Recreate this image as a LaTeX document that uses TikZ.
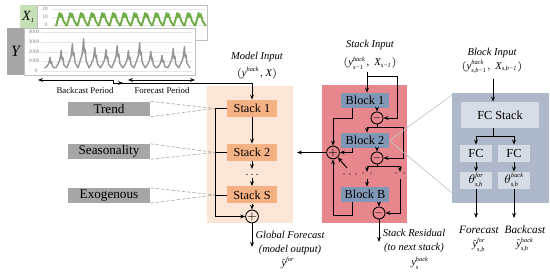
\documentclass[tikz,border=0pt]{standalone}
\usepackage{fontspec}
\setmainfont{Liberation Serif}
\usetikzlibrary{arrows.meta, positioning, calc}
\usepackage{xcolor}
\definecolor{peach}{RGB}{251,229,214}
\definecolor{apricot}{RGB}{244,177,131}
\definecolor{rosered}{RGB}{231,134,140}
\definecolor{steel}{RGB}{128,151,182}
\definecolor{slate}{RGB}{173,185,202}
\definecolor{mist}{RGB}{214,220,229}
\definecolor{ash}{RGB}{166,166,166}
\definecolor{leaf}{RGB}{112,173,71}
\definecolor{leafbg}{RGB}{197,224,180}
% tiny italic script for super/subscripts
\newcommand{\scr}[1]{\hbox{\fontsize{3.6}{4}\selectfont\itshape #1}}

\begin{document}
\begin{tikzpicture}[x=0.02cm, y=-0.02cm, line width=0.5pt,
    >={Stealth[length=2.8pt,width=2.2pt]},
    stackbox/.style={fill=apricot, minimum width=1.0cm, minimum height=0.34cm,
                     inner sep=0pt, font=\fontsize{7}{8}\selectfont},
    blockbox/.style={fill=steel, minimum width=0.96cm, minimum height=0.30cm,
                     inner sep=0pt, font=\fontsize{7}{8}\selectfont},
    tagbox/.style={fill=ash, minimum width=1.64cm, minimum height=0.29cm,
                   inner sep=0pt, font=\fontsize{7.5}{8}\selectfont},
    fcbox/.style={fill=mist, minimum width=0.64cm, minimum height=0.34cm,
                  inner sep=0pt, font=\fontsize{7}{8}\selectfont},
    sumnode/.style={circle, draw, minimum size=0.18cm, inner sep=0pt,
                    font=\fontsize{6}{6}\selectfont},
    minusnode/.style={circle, draw, minimum size=0.12cm, inner sep=0pt,
                      font=\fontsize{4}{4}\selectfont},
    capt/.style={font=\fontsize{6}{7}\selectfont\itshape, inner sep=0pt},
    period/.style={font=\fontsize{5}{6}\selectfont, inner sep=0pt},
    tick/.style={font=\fontsize{3}{3}\selectfont, text=gray, inner sep=0pt},
    lead/.style={ash!90, dash pattern=on 2pt off 1pt, line width=0.4pt},
    zoomline/.style={gray!45, line width=0.4pt},
    panel/.style={fill=white, draw=gray!50, line width=0.4pt},
    gridline/.style={gray!20, line width=0.3pt},
    xline/.style={leaf, line width=1.1pt, line join=round},
    yline/.style={ash!90!black, line width=0.8pt, line join=round}]
  \useasboundingbox (0,0) rectangle (550,276);

  % exogenous series panel
  \fill[leafbg] (20,5) rectangle (37,40);
  \node[font=\fontsize{8}{8}\selectfont] (xlab) at (28.5,17) {$\mathit{X}_{\scr{1}}$};
  \draw[panel] (37,5) rectangle (207,40);
  \foreach \gy in {9,17,25} \draw[gridline] (52,\gy) -- (205,\gy);
  \node[tick] (x20) at (45,9) {20};
  \node[tick] (x10) at (45,17) {10};
  \node[tick] (x0) at (46,25) {0};
  \foreach \i in {0,...,13}{
    \pgfmathsetmacro\xp{56+\i*10.7}
    \draw[xline] (\xp,26) -- (\xp+2,19) -- (\xp+3.5,13) -- (\xp+4.5,17)
      -- (\xp+5.5,14) -- (\xp+7.5,21) -- (\xp+10.7,26);
  }

  % target series panel
  \fill[ash] (7,28) rectangle (24,75);
  \node[font=\fontsize{9}{9}\selectfont] (ylab) at (15.5,51) {$\mathit{Y}$};
  \draw[panel] (24,28) rectangle (195,75);
  \foreach \gy in {32,42,52,61,71} \draw[gridline] (41,\gy) -- (192,\gy);
  \node[tick] (y4) at (34,32) {4000};
  \node[tick] (y3) at (34,42) {3000};
  \node[tick] (y2) at (34,52) {2000};
  \node[tick] (y1) at (34,61) {1000};
  \node[tick] (y0) at (36,71) {0};
  \foreach \h [count=\i] in {1400,2100,2800,3300,2400,2200,2600,2100,2900,2000,1600,2300,2500}{
    \pgfmathsetmacro\xp{50+(\i-1)*11.2}
    \draw[yline] (\xp-5.6,68) -- (\xp-3.5,{71-0.0030*\h}) -- (\xp-1.5,{71-0.0050*\h})
      -- (\xp-0.6,{71-0.0075*\h}) -- (\xp,{71-0.00975*\h}) -- (\xp+0.8,{71-0.0055*\h})
      -- (\xp+1.6,{71-0.0065*\h}) -- (\xp+2.6,{71-0.0030*\h}) -- (\xp+5.6,68);
  }

  % periods
  \coordinate (bcL) at (38,80);
  \coordinate (bcR) at (113,80);
  \coordinate (bcE) at (123,83);
  \coordinate (fcL) at (128,80);
  \coordinate (fcR) at (195,80);
  \draw[<->] (bcL) -- (bcR) |- (bcE);
  \draw[<->] (fcL) -- (fcR);
  \node[period] (bclab) at (85,91) {Backcast Period};
  \node[period] (fclab) at (162,91) {Forecast Period};

  % model: stacks
  \fill[peach] (207,86) rectangle (293,223);
  \node[capt] (minlab) at (257,57) {Model Input};
  \node[capt] (minval) at (257,73) {$(\mathit{y}^{\scr{back}},\mathit{X})$};
  \node[stackbox] (st1) at (252,108.5) {Stack 1};
  \node[stackbox] (st2) at (252,152.5) {Stack 2};
  \node[stackbox] (stS) at (252,195) {Stack S};
  \node[sumnode] (gsum) at (252,216.5) {$+$};
  \draw[->] (bcR |- bcE) -| (st1.north);
  \draw[->] (st1) -- (st2);
  \coordinate (sd1) at (252,169);
  \coordinate (sd2) at (252,178);
  \draw[->] (st2.south) -- (sd1);
  \foreach \dx in {-5,0,5} \fill (252+\dx,174.5) circle (0.35pt);
  \draw[->] (sd2) -- (stS.north);
  \draw[->] (stS) -- (gsum);
  \coordinate (gout) at (252,247);
  \draw[->] (gsum) -- (gout);
  \node[capt] (gf1) at (290,235) {Global Forecast};
  \node[capt] (gf2) at (290,250) {(model output)};
  \node[capt] (gf3) at (288,263) {$\hat{\mathit{y}}^{\scr{for}}$};

  % stack forecasts collected
  \coordinate (lpx) at (215,0);
  \draw (st1.west) -- (lpx |- st1.west);
  \draw (st2.west) -- (lpx |- st2.west);
  \draw (stS.west) -- (lpx |- stS.west);
  \draw[->] (lpx |- st1.west) |- (gsum.west);

  % interpretable components
  \node[tagbox] (trend) at (109,109) {Trend};
  \node[tagbox] (seas) at (109,151.5) {Seasonality};
  \node[tagbox] (exo) at (109,195.5) {Exogenous};
  \draw[lead] (trend.north east) -- (lpx |- st1.west);
  \draw[lead] (trend.south east) -- (lpx |- st1.west);
  \draw[lead] (seas.north east) -- (lpx |- st2.west);
  \draw[lead] (seas.south east) -- (lpx |- st2.west);
  \draw[lead] (exo.north east) -- (lpx |- stS.west);
  \draw[lead] (exo.south east) -- (lpx |- stS.west);

  % stack: blocks
  \fill[rosered] (322,85) rectangle (407,223);
  \node[capt] (sinlab) at (370,45) {Stack Input};
  \node[capt] (sinval) at (370,63) {$(\mathit{y}^{\scr{back}}_{\scr{s−1}},\,\mathit{X}_{\scr{s−1}})$};
  \node[blockbox] (b1) at (365,100.5) {Block 1};
  \node[blockbox] (b2) at (365,140.5) {Block 2};
  \node[blockbox] (bB) at (365,194.5) {Block B};
  \node[minusnode] (c1) at (377,118) {$-$};
  \node[minusnode] (c2) at (377,158) {$-$};
  \node[minusnode] (c3) at (379,213) {$-$};
  \node[sumnode] (fsum) at (333,152.5) {$+$};

  % residual path
  \coordinate (sin) at (367,72);
  \coordinate (br1) at (367,76);
  \coordinate (r1) at (397,76);
  \coordinate (j1) at (377,127);
  \coordinate (r2) at (403,127);
  \coordinate (j2) at (377,166);
  \coordinate (r3) at (400,166);
  \draw[->] (sin) -- (sin |- b1.north);
  \draw[->] (br1) -- (r1) |- (c1.east);
  \draw[->] (c1 |- b1.south) -- (c1.north);
  \draw (c1.south) -- (j1);
  \draw[->] (j1) -| (sin |- b2.north);
  \draw[->] (j1) -- (r2) |- (c2.east);
  \draw[->] (c2 |- b2.south) -- (c2.north);
  \draw (c2.south) -- (j2);
  \draw (sin |- j2) -- (r3);
  \draw[->] (sin |- j2) -- ++(0,6);
  \draw[->] (r3) -- ++(0,6);
  \foreach \dx in {-4,4}{
    \fill (367+\dx,173) circle (0.35pt);
    \fill (400+\dx,173) circle (0.35pt);
  }
  \coordinate (d1) at (367,179);
  \coordinate (d2) at (400,179);
  \draw[->] (d1) -- (sin |- bB.north);
  \draw[->] (d2) |- (c3.east);
  \draw[->] (c3 |- bB.south) -- (c3.north);
  \coordinate (sout) at (379,242);
  \draw[->] (c3.south) -- (sout);
  \node[capt] (sr1) at (414,233) {Stack Residual};
  \node[capt] (sr2) at (414,248) {(to next stack)};
  \node[capt] (sr3) at (420,263) {$\mathit{y}^{\scr{back}}_{\scr{s}}$};

  % forecast path
  \coordinate (fx) at (352,0);
  \draw[->] (fx |- b1.south) -- ++(0,10) -| (fsum.north);
  \draw[->] (fx |- b2.south) |- (fsum.east);
  \draw[->] (fx |- bB.south) -- ++(0,13) -| (fsum.south);
  \coordinate (dg) at (347,168);
  \draw[->] (dg) -- (fsum.south east);
  \foreach \dx in {-6,0,6} \fill (350+\dx,174) circle (0.35pt);
  \coordinate (fout) at (297,152.5);
  \draw[->] (fsum.west) -- (fout);

  % block detail
  \coordinate (pTL) at (452,95);
  \coordinate (pBL) at (452,193);
  \draw[zoomline] (b2.east) -- (pTL);
  \draw[zoomline] (b2.east) -- (pBL);
  \fill[slate] (452,93) rectangle (549,203);
  \node[capt] (binlab) at (492,53) {Block Input};
  \node[capt] (binval) at (492,67) {$(\mathit{y}^{\scr{back}}_{\scr{s,b−1}},\,\mathit{X}_{\scr{s,b−1}})$};
  \node[fcbox, minimum width=1.56cm, minimum height=0.52cm] (fcs) at (500,115) {FC Stack};
  \node[fcbox] (fc1) at (476,153.5) {FC};
  \node[fcbox] (fc2) at (514,153.5) {FC};
  \node[fcbox] (th1) at (476,180.5) {$\theta^{\scr{for}}_{\scr{s,b}}$};
  \node[fcbox] (th2) at (514,180.5) {$\theta^{\scr{back}}_{\scr{s,b}}$};
  \coordinate (bin) at (493,79);
  \coordinate (fj) at (493,136);
  \draw[->] (bin) -- (bin |- fcs.north);
  \draw (bin |- fcs.south) -- (fj);
  \draw (fj) -- (fc1 |- fj);
  \draw[->] (fc1 |- fj) -- (fc1.north);
  \draw[->] (fj) -| (fc2.north);
  \draw[->] (fc1) -- (th1);
  \draw[->] (fc2) -- (th2);
  \coordinate (o1) at (476,218);
  \coordinate (o2) at (514,218);
  \draw[->] (th1) -- (o1);
  \draw[->] (th2) -- (o2);
  \node[capt, font=\fontsize{6.4}{7}\selectfont\itshape] (fo1) at (479,230) {Forecast};
  \node[capt] (fo2) at (479,245) {$\hat{\mathit{y}}^{\scr{for}}_{\scr{s,b}}$};
  \node[capt, font=\fontsize{6.4}{7}\selectfont\itshape] (bo1) at (525,230) {Backcast};
  \node[capt] (bo2) at (525,245) {$\hat{\mathit{y}}^{\scr{back}}_{\scr{s,b}}$};
\end{tikzpicture}
\end{document}
